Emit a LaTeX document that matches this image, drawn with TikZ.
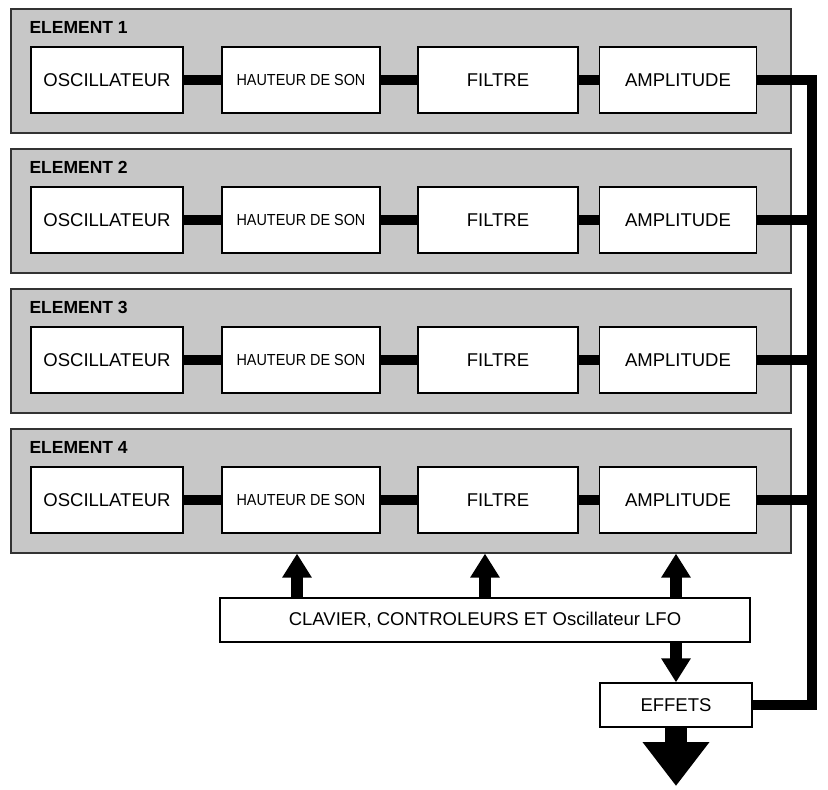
\documentclass[tikz,border=0pt]{standalone}
\usepackage{fontspec}
\setmainfont{Liberation Sans}
\usetikzlibrary{arrows.meta}
\begin{document}
\begin{tikzpicture}[x=1pt,y=-1pt,
 panel/.style={draw=black!80,line width=1.6pt,fill=black!22,minimum width=780pt,minimum height=124pt,inner sep=0pt,anchor=north west},
 blk/.style={draw=black,line width=1.3pt,fill=white,minimum width=152pt,minimum height=66pt,inner sep=1pt,font=\fontsize{18.5}{20}\selectfont},
 bar/.style={line width=10pt},
 fat/.style={line width=12pt,-{Triangle[width=28pt,length=24pt]}},
 ttl/.style={font=\bfseries\fontsize{17.5}{19}\selectfont,anchor=west}]
\useasboundingbox (0,0) rectangle (828,790);
\foreach \i in {1,2,3,4}{
 \pgfmathsetmacro\t{8+140*(\i-1)}
 \node[panel] (p\i) at (10,\t) {};
 \node[ttl] (t\i) at (26,\t+19) {ELEMENT \i};
 \node[blk] (o\i) at (107,\t+72) {OSCILLATEUR};
 \node[blk,minimum width=158pt,font=\fontsize{16}{18}\selectfont] (h\i) at (301,\t+72) {\addfontfeature{FakeStretch=0.9}HAUTEUR DE SON};
 \node[blk,minimum width=160pt] (f\i) at (498,\t+72) {FILTRE};
 \node[blk,minimum width=157pt] (a\i) at (678,\t+72) {AMPLITUDE};
 \draw[bar] (o\i) -- (h\i);
 \draw[bar] (h\i) -- (f\i);
 \draw[bar] (f\i) -- (a\i);
 \coordinate (r\i) at (812,\t+72);
}
\node[draw,line width=1.3pt,fill=white,minimum width=530pt,minimum height=44pt,font=\fontsize{18.5}{20}\selectfont] (k) at (485,620) {CLAVIER, CONTROLEURS ET Oscillateur LFO};
\node[draw,line width=1.3pt,fill=white,minimum width=152pt,minimum height=44pt,font=\fontsize{18.5}{20}\selectfont] (e) at (676,705) {EFFETS};
\coordinate (rb) at (812,705);
\draw[bar,line join=miter] (a1) -- (r1) -- (rb) -- (e);
\foreach \i in {2,3,4}{ \draw[bar] (a\i) -- (r\i); }
\foreach \x in {297,485,676}{
 \draw[fat] (k.north -| \x,0) -- (p4.south -| \x,0);
}
\draw[fat] (k.south -| 676,0) -- (e.north);
\coordinate (end) at (676,786);
\draw[line width=22pt,-{Triangle[width=64pt,length=44pt]}] (e.south) -- (end);
\end{tikzpicture}
\end{document}
